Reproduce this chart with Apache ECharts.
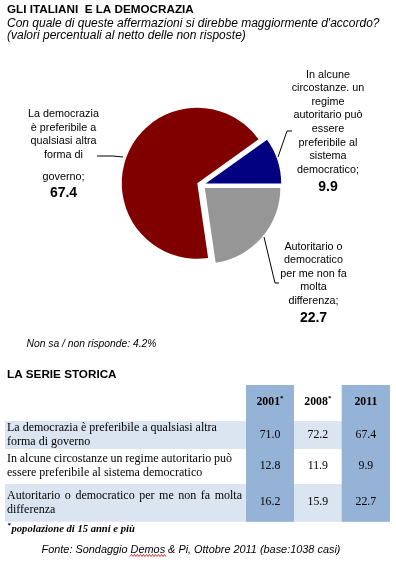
<!DOCTYPE html>
<html><head><meta charset="utf-8">
<script src="https://cdn.jsdelivr.net/npm/echarts@6/dist/echarts.min.js"></script>
<style>html,body{margin:0;padding:0;background:#fff}#c{width:396px;height:563px}</style>
</head><body><div id="c"></div>
<script>
// ---------- DATA ----------
const categories = [
  'La democrazia è preferibile a qualsiasi altra forma di governo',
  'In alcune circostanze un regime autoritario può essere preferibile al sistema democratico',
  'Autoritario o democratico per me non fa molta differenza'
];
const pieLabelLines = [
  ['La democrazia', 'è preferibile a', 'qualsiasi altra', 'forma di', '', 'governo;'],
  ['In alcune', 'circostanze. un', 'regime', 'autoritario può', 'essere', 'preferibile al', 'sistema', 'democratico;'],
  ['Autoritario o', 'democratico', 'per me non fa', 'molta', 'differenza;']
];
const values2011 = [67.4, 9.9, 22.7];
const values2001 = [71.0, 12.8, 16.2];
const values2008 = [72.2, 11.9, 15.9];
const years = ['2001', '2008', '2011'];
const yearNotes = ['*', '*', ''];
const tableRowLabels = [
  ['La democrazia è preferibile a qualsiasi altra', 'forma di governo'],
  ['In alcune circostanze un regime autoritario può', 'essere preferibile al sistema democratico'],
  ['Autoritario o democratico per me non fa molta', 'differenza']
];
const noAnswer = 4.2;
const titleText = 'GLI ITALIANI  E LA DEMOCRAZIA';
const subtitleLines = ["Con quale di queste affermazioni si direbbe maggiormente d'accordo?", '(valori percentuali al netto delle non risposte)'];
const tableTitle = 'LA SERIE STORICA';
const footnote = 'popolazione di 15 anni e più';
const sourceText = 'Fonte: Sondaggio Demos & Pi, Ottobre 2011 (base:1038 casi)';

// ---------- STYLE / LAYOUT ----------
const SANS = '"Liberation Sans", Arial, sans-serif';
const SERIF = '"Liberation Serif", "Times New Roman", serif';
const sliceColors = ['#800000', '#000080', '#969696'];
const PIE_C = [201.4, 185], PIE_R = 75.5, EXPLODE = 4.5;
const pieLabelPos = [
  { x: 63.5, y: 107.4, line: [[97, 156], [113, 156], [123, 157]] },
  { x: 328, y: 67.9, line: [[278, 157], [287, 131], [292, 131]] },
  { x: 313.5, y: 239.9, line: [[264, 237], [275, 283], [279, 283]] }
];
const total = values2011.reduce((a, b) => a + b, 0);
const startAngle = 360 * (values2011[0] + values2011[1]) / total;

const cols = [[5, 246], [246, 294], [294, 341.7], [341.7, 390]];
const rows = [[385, 421], [421, 449], [449, 484], [484, 521.7]];
const justifyTo = [null, 232, 242]; // right edge of justified first lines
const BLUE = '#95b3d7', LIGHT = '#dbe5f1';
const ROW_FONT = '12px ' + SERIF;

function pieLabel(i) {
  const parts = pieLabelLines[i].map(s => s === '' ? '{g| }' : '{t|' + s + '}');
  parts.push('{v|' + values2011[i].toFixed(1) + '}');
  return parts.join('\n');
}

const measureCtx = document.createElement('canvas').getContext('2d');
function textW(s, font) { measureCtx.font = font; return measureCtx.measureText(s).width; }

const g = [];
// titles
g.push({ type: 'text', x: 7, y: 10, style: { text: titleText, font: 'bold 11.7px ' + SANS, fill: '#000', verticalAlign: 'middle' } });
subtitleLines.forEach((s, i) => g.push({ type: 'text', x: 7, y: 24 + i * 11.3, style: { text: s, font: 'italic 12px ' + SANS, fill: '#000', verticalAlign: 'middle' } }));
g.push({ type: 'text', x: 26.5, y: 344, style: { text: 'Non sa / non risponde: ' + noAnswer.toFixed(1) + '%', font: 'italic 10.3px ' + SANS, fill: '#000', verticalAlign: 'middle' } });
g.push({ type: 'text', x: 7, y: 375, style: { text: tableTitle, font: 'bold 11.7px ' + SANS, fill: '#000', verticalAlign: 'middle' } });

// table backgrounds
[1, 3].forEach(r => g.push({ type: 'rect', shape: { x: cols[0][0], y: rows[r][0], width: cols[3][1] - cols[0][0], height: rows[r][1] - rows[r][0] }, style: { fill: LIGHT } }));
[1, 3].forEach(c => g.push({ type: 'rect', shape: { x: cols[c][0], y: rows[0][0], width: cols[c][1] - cols[c][0], height: rows[3][1] - rows[0][0] }, style: { fill: BLUE } }));

// header
years.forEach((y, i) => {
  const c = cols[i + 1];
  g.push({ type: 'text', x: (c[0] + c[1]) / 2, y: 402, style: {
    text: '{y|' + y + '}' + (yearNotes[i] ? '{s|' + yearNotes[i] + '}' : ''),
    align: 'center', verticalAlign: 'middle',
    rich: { y: { fontFamily: SERIF, fontSize: 11.8, fontWeight: 'bold', fill: '#000' }, s: { fontFamily: SERIF, fontSize: 7, fontWeight: 'bold', fill: '#000', padding: [0, 0, 7, 0] } }
  } });
});
// rows
const valueCols = [values2001, values2008, values2011];
tableRowLabels.forEach((lines, r) => {
  const rr = rows[r + 1];
  const cy = (rr[0] + rr[1]) / 2 - 0.5;
  lines.forEach((line, li) => {
    const ly = cy + (li - (lines.length - 1) / 2) * 14;
    const target = li === 0 ? justifyTo[r] : null;
    if (target) {
      const words = line.split(' ');
      const ws = words.map(w => textW(w, ROW_FONT));
      const gap = (target - 7 - ws.reduce((a, b) => a + b, 0)) / (words.length - 1);
      let x = 7;
      words.forEach((w, k) => {
        g.push({ type: 'text', x: x, y: ly, style: { text: w, font: ROW_FONT, fill: '#000', verticalAlign: 'middle' } });
        x += ws[k] + gap;
      });
    } else {
      g.push({ type: 'text', x: 7, y: ly, style: { text: line, font: ROW_FONT, fill: '#000', verticalAlign: 'middle' } });
    }
  });
  valueCols.forEach((vals, i) => {
    const c = cols[i + 1];
    g.push({ type: 'text', x: (c[0] + c[1]) / 2, y: cy, style: { text: vals[r].toFixed(1), font: '11.8px ' + SERIF, fill: '#000', align: 'center', verticalAlign: 'middle' } });
  });
});
// footnote + source
g.push({ type: 'text', x: 7.5, y: 525, style: { text: '*', font: 'bold 7px ' + SERIF, fill: '#000', verticalAlign: 'middle' } });
g.push({ type: 'text', x: 11.5, y: 529, style: { text: footnote, font: 'italic bold 10.6px ' + SERIF, fill: '#000', verticalAlign: 'middle' } });
g.push({ type: 'text', x: 191, y: 550, style: { text: sourceText, font: 'italic 10.9px ' + SANS, fill: '#000', align: 'center', verticalAlign: 'middle' } });
// spell-check squiggle under "Demos"
(function () {
  const pts = [];
  for (let x = 130, k = 0; x <= 166; x += 1.5, k++) pts.push([x, k % 2 ? 554.5 : 556.5]);
  g.push({ type: 'polyline', shape: { points: pts }, style: { stroke: '#e00000', lineWidth: 0.8, fill: null } });
})();

// exploded pie: one series per slice, each shifted along its own mid-angle
let cum = 0;
const series = values2011.map((v, i) => {
  const mid = (startAngle - (cum + v / 2) * 360 / total) * Math.PI / 180;
  cum += v;
  const center = [PIE_C[0] + EXPLODE * Math.cos(mid), PIE_C[1] - EXPLODE * Math.sin(mid)];
  return {
    type: 'pie',
    center: center,
    radius: PIE_R,
    startAngle: startAngle,
    clockwise: true,
    avoidLabelOverlap: false,
    silent: true,
    emphasis: { disabled: true },
    data: categories.map((name, j) => j === i
      ? { name: name, value: values2011[j], itemStyle: { color: sliceColors[j] } }
      : { name: name, value: values2011[j], itemStyle: { color: 'rgba(0,0,0,0)' }, label: { show: false }, labelLine: { show: false } }),
    label: {
      show: true,
      position: 'outside',
      formatter: p => pieLabel(p.dataIndex),
      color: '#000',
      rich: {
        t: { fontFamily: SANS, fontSize: 10.8, lineHeight: 13.6, color: '#000' },
        g: { fontSize: 4, lineHeight: 8 },
        v: { fontFamily: SANS, fontSize: 14, fontWeight: 'bold', lineHeight: 20, color: '#000' }
      }
    },
    labelLine: { show: true, lineStyle: { color: '#000', width: 1 } },
    labelLayout: p => {
      if (p.dataIndex !== i) return {};
      const q = pieLabelPos[i];
      return { x: q.x, y: q.y, align: 'center', verticalAlign: 'top', labelLinePoints: q.line };
    }
  };
});

const chart = echarts.init(document.getElementById('c'), null, { renderer: 'canvas' });
chart.setOption({
  backgroundColor: '#ffffff',
  animation: false,
  series: series,
  graphic: { elements: g }
});
</script>
</body></html>
